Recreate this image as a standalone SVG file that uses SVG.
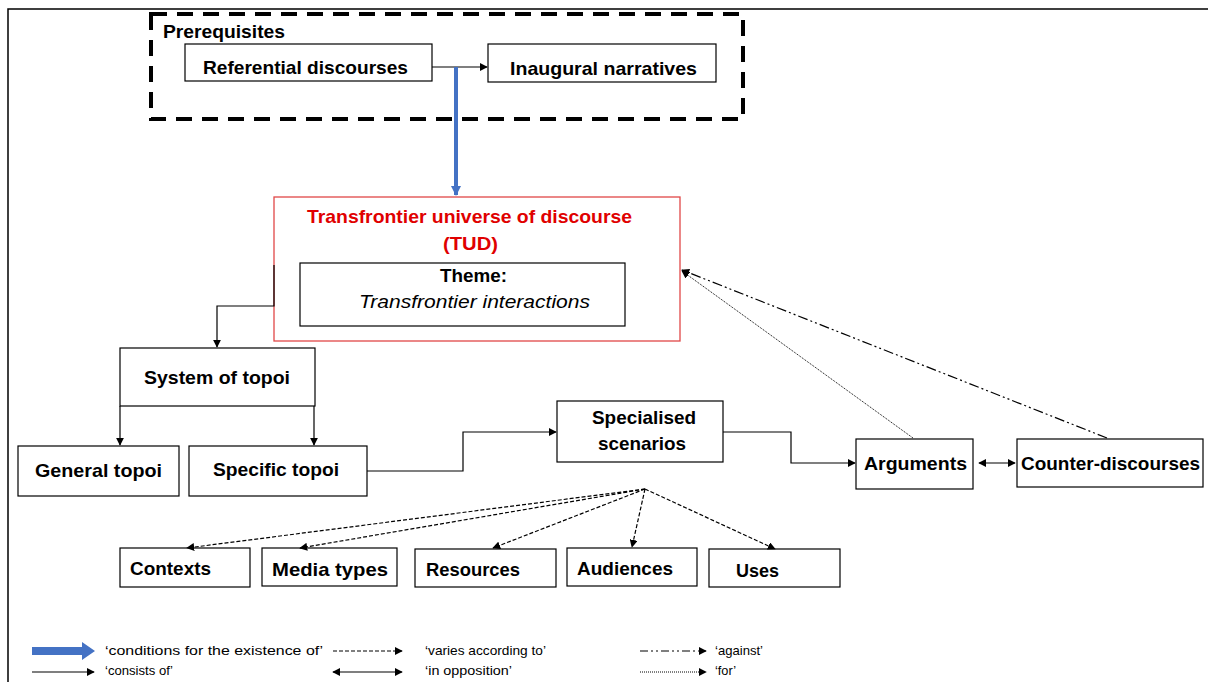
<svg xmlns="http://www.w3.org/2000/svg" width="1208" height="682" viewBox="0 0 1208 682">
<defs>
<marker id="ah" viewBox="0 0 10 10" refX="9" refY="5" markerWidth="8" markerHeight="8" markerUnits="userSpaceOnUse" orient="auto-start-reverse"><path d="M0,0 L10,5 L0,10 z" fill="#000"/></marker>
<marker id="ahb" viewBox="0 0 10 10" refX="9" refY="5" markerWidth="10" markerHeight="10" markerUnits="userSpaceOnUse" orient="auto"><path d="M0,0 L10,5 L0,10 z" fill="#4472C4"/></marker>
<style>
.box{fill:#fff;stroke:#000;stroke-width:1.2}
.t{font-family:"Liberation Sans",Arial,sans-serif;font-weight:bold;font-size:19px;fill:#000}
.c{stroke:#000;stroke-width:1.2;fill:none}
.d{stroke:#000;stroke-width:1.2;fill:none;stroke-dasharray:4 2}
.lg{font-family:"Liberation Sans Narrow","Liberation Sans",Arial,sans-serif;font-size:13px;fill:#000}
</style>
</defs>
<rect width="1208" height="682" fill="#fff"/>
<path d="M8,682 V9 H1208" fill="none" stroke="#000" stroke-width="1.5"/>

<g id="prerequisites">
<rect x="151" y="14" width="592" height="105" fill="none" stroke="#000" stroke-width="4" stroke-dasharray="16 10"/>
<text class="t" x="163" y="38" textLength="122" lengthAdjust="spacingAndGlyphs">Prerequisites</text>
</g>
<g id="referential">
<rect class="box" x="185" y="44" width="247" height="37"/>
<text class="t" x="203" y="74" textLength="205" lengthAdjust="spacingAndGlyphs">Referential discourses</text>
</g>
<g id="inaugural">
<rect class="box" x="488" y="44" width="228" height="38"/>
<text class="t" x="510" y="75" textLength="187" lengthAdjust="spacingAndGlyphs">Inaugural narratives</text>
</g>
<g id="tud">
<rect x="274" y="197" width="406" height="144" fill="#fff" stroke="#E04848" stroke-width="1.3"/>
<text class="t" x="307" y="223" textLength="325" lengthAdjust="spacingAndGlyphs" style="fill:#E00000">Transfrontier universe of discourse</text>
<text class="t" x="443" y="250" textLength="55" lengthAdjust="spacingAndGlyphs" style="fill:#E00000">(TUD)</text>
</g>
<g id="theme">
<rect class="box" x="300" y="263" width="325" height="63"/>
<text class="t" x="440" y="282" textLength="67" lengthAdjust="spacingAndGlyphs">Theme:</text>
<text x="359" y="308" textLength="231" lengthAdjust="spacingAndGlyphs" style="font-family:'Liberation Sans',Arial,sans-serif;font-style:italic;font-size:19px;fill:#000">Transfrontier interactions</text>
</g>
<g id="system">
<rect class="box" x="120" y="348" width="195" height="58"/>
<text class="t" x="144" y="384" textLength="146" lengthAdjust="spacingAndGlyphs">System of topoi</text>
</g>
<g id="general">
<rect class="box" x="18" y="446" width="161" height="50"/>
<text class="t" x="35" y="477" textLength="127" lengthAdjust="spacingAndGlyphs">General topoi</text>
</g>
<g id="specific">
<rect class="box" x="189" y="446" width="178" height="50"/>
<text class="t" x="213" y="476" textLength="126" lengthAdjust="spacingAndGlyphs">Specific topoi</text>
</g>
<g id="specialised">
<rect class="box" x="557" y="401" width="166" height="61"/>
<text class="t" x="592" y="424" textLength="104" lengthAdjust="spacingAndGlyphs">Specialised</text>
<text class="t" x="598" y="450" textLength="88" lengthAdjust="spacingAndGlyphs">scenarios</text>
</g>
<g id="arguments">
<rect class="box" x="856" y="439" width="117" height="50"/>
<text class="t" x="864" y="470" textLength="103" lengthAdjust="spacingAndGlyphs">Arguments</text>
</g>
<g id="counter">
<rect class="box" x="1017" y="439" width="186" height="48"/>
<text class="t" x="1021" y="470" textLength="179" lengthAdjust="spacingAndGlyphs">Counter-discourses</text>
</g>
<g id="contexts">
<rect class="box" x="120" y="548" width="130" height="39"/>
<text class="t" x="130" y="575" textLength="81" lengthAdjust="spacingAndGlyphs">Contexts</text>
</g>
<g id="media">
<rect class="box" x="262" y="548" width="135" height="38"/>
<text class="t" x="272" y="576" textLength="116" lengthAdjust="spacingAndGlyphs">Media types</text>
</g>
<g id="resources">
<rect class="box" x="415" y="549" width="141" height="38"/>
<text class="t" x="426" y="576" textLength="94" lengthAdjust="spacingAndGlyphs">Resources</text>
</g>
<g id="audiences">
<rect class="box" x="567" y="548" width="130" height="38"/>
<text class="t" x="577" y="575" textLength="96" lengthAdjust="spacingAndGlyphs">Audiences</text>
</g>
<g id="uses">
<rect class="box" x="709" y="549" width="131" height="38"/>
<text class="t" x="736" y="577" textLength="43" lengthAdjust="spacingAndGlyphs">Uses</text>
</g>

<g id="connectors">
<path class="c" d="M432,67 H487" marker-end="url(#ah)"/>
<path d="M456,67 V195" stroke="#4472C4" stroke-width="4" fill="none" marker-end="url(#ahb)"/>
<path class="c" d="M274,265 V306 H217 V347" marker-end="url(#ah)"/>
<path class="c" d="M120,406 V445" marker-end="url(#ah)"/>
<path class="c" d="M314,406 V445" marker-end="url(#ah)"/>
<path class="c" d="M367,471 H463 V432 H556" marker-end="url(#ah)"/>
<path class="c" d="M723,432 H791 V463 H855" marker-end="url(#ah)"/>
<path class="c" d="M979,463 H1015" marker-start="url(#ah)" marker-end="url(#ah)"/>
<path d="M913,438 L682,271" stroke="#000" stroke-width="1" stroke-dasharray="1 1" fill="none" marker-end="url(#ah)"/>
<path d="M1107,438 L682,270" stroke="#000" stroke-width="1.2" stroke-dasharray="10 3 2 3 2 3" fill="none" marker-end="url(#ah)"/>
<path class="d" d="M645,489 L187,548" marker-end="url(#ah)"/>
<path class="d" d="M645,489 L300,548" marker-end="url(#ah)"/>
<path class="d" d="M645,489 L493,548" marker-end="url(#ah)"/>
<path class="d" d="M645,489 L632,547" marker-end="url(#ah)"/>
<path class="d" d="M645,489 L775,549" marker-end="url(#ah)"/>
</g>

<g id="legend">
<polygon points="32,647 82,647 82,642 95,651 82,660 82,655 32,655" fill="#4472C4"/>
<text class="lg" x="105" y="655" textLength="218" lengthAdjust="spacingAndGlyphs">‘conditions for the existence of’</text>
<path class="c" d="M32,672 H94" marker-end="url(#ah)"/>
<text class="lg" x="105" y="675" textLength="68" lengthAdjust="spacingAndGlyphs">‘consists of’</text>
<path class="d" d="M333,651 H402" marker-end="url(#ah)"/>
<text class="lg" x="425" y="655" textLength="121" lengthAdjust="spacingAndGlyphs">‘varies according to’</text>
<path class="c" d="M333,672 H402" marker-start="url(#ah)" marker-end="url(#ah)"/>
<text class="lg" x="425" y="675" textLength="87" lengthAdjust="spacingAndGlyphs">‘in opposition’</text>
<path d="M640,651 H706" stroke="#000" stroke-width="1.2" stroke-dasharray="8 3 2 3 2 3" fill="none" marker-end="url(#ah)"/>
<text class="lg" x="715" y="655" textLength="48" lengthAdjust="spacingAndGlyphs">‘against’</text>
<path d="M640,672 H706" stroke="#000" stroke-width="1" stroke-dasharray="1 1" fill="none" marker-end="url(#ah)"/>
<text class="lg" x="715" y="675" textLength="21" lengthAdjust="spacingAndGlyphs">‘for’</text>
</g>
</svg>
